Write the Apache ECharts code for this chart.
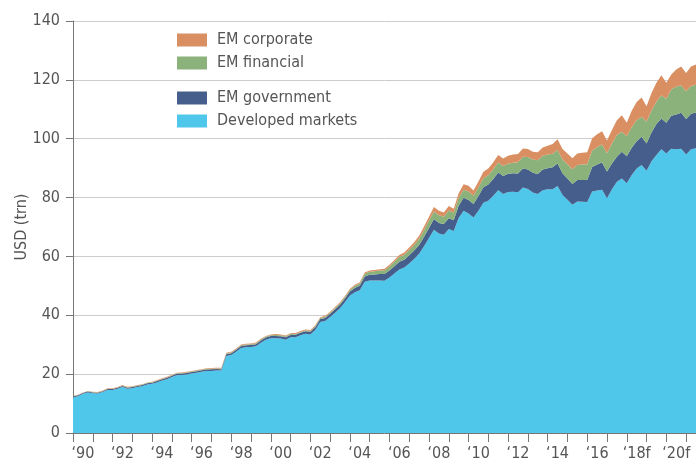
<!DOCTYPE html>
<html>
<head>
<meta charset="utf-8">
<script src="https://cdn.jsdelivr.net/npm/echarts@6/dist/echarts.min.js"></script>
<style>
  html, body { margin: 0; padding: 0; background: #fff; }
  #chart { width: 696px; height: 464px; }
</style>
</head>
<body>
<div id="chart"></div>
<script>
// quarterly data, first quarter 1990, last 2021 mid-year
var startYear = 1990;
var lastPoint = 2021.5;
// year labels (f = forecast)
var yearLabels = {
  1990: "\u201890", 1992: "\u201892", 1994: "\u201894", 1996: "\u201896", 1998: "\u201898",
  2000: "\u201800", 2002: "\u201802", 2004: "\u201804", 2006: "\u201806", 2008: "\u201808",
  2010: "\u201810", 2012: "\u201812", 2014: "\u201814", 2016: "\u201816", 2018: "\u201818f",
  2020: "\u201820f"
};
var seriesNames = ['Developed markets', 'EM government', 'EM financial', 'EM corporate'];
var colors = ['#4EC7EA', '#455E8B', '#8CB27C', '#D98F62'];

// Developed markets
var dm = [
  12.1, 12.5, 13.3, 13.8,  13.5, 13.4, 13.9, 14.6,  14.6, 15.0, 15.6, 15.0,  15.2, 15.6, 15.9, 16.5,
  16.7, 17.2, 17.8, 18.3,  19.0, 19.6, 19.7, 19.9,  20.2, 20.5, 20.8, 21.1,  21.1, 21.2, 21.2, 26.2,
  26.5, 27.6, 28.9, 29.1,  29.2, 29.5, 30.7, 31.7,  32.2, 32.2, 32.1, 31.7,  32.5, 32.5, 33.2, 33.7,
  33.5, 35.0, 37.7, 38.1,  39.4, 40.9, 42.4, 44.4,  46.7, 47.8, 48.5, 51.4,  51.8, 51.8, 51.8, 51.7,
  52.8, 54.2, 55.6, 56.2,  57.6, 59.1, 60.9, 63.5,  66.3, 69.1, 67.8, 67.4,  69.3, 68.6, 73.1, 75.5,
  74.6, 73.2, 75.5, 78.2,  78.9, 80.6, 82.5, 81.2,  81.9, 82.0, 81.8, 83.4,  82.9, 81.7, 81.2, 82.5,
  82.8, 82.8, 83.9, 80.9,  79.3, 77.6, 78.7, 78.6,  78.5, 82.1, 82.4, 82.7,  79.8, 82.8, 85.4, 86.5,
  84.9, 87.7, 89.9, 91.1,  89.1, 92.3, 94.5, 96.4,  95.0, 96.6, 96.4, 96.6,  94.6, 96.4, 96.8
];
// EM government
var gov = [
  0.3, 0.3, 0.3, 0.3,  0.3, 0.3, 0.3, 0.35,  0.35, 0.35, 0.4, 0.4,  0.4, 0.4, 0.4, 0.4,
  0.4, 0.45, 0.45, 0.45,  0.45, 0.5, 0.5, 0.5,  0.5, 0.5, 0.5, 0.5,  0.55, 0.55, 0.5, 0.6,
  0.6, 0.65, 0.65, 0.7,  0.7, 0.7, 0.75, 0.75,  0.75, 0.8, 0.8, 0.8,  0.8, 0.85, 0.85, 0.9,
  0.9, 0.95, 1.0, 1.0,  1.1, 1.15, 1.2, 1.3,  1.4, 1.5, 1.6, 1.8,  2.0, 2.1, 2.2, 2.3,
  2.4, 2.5, 2.6, 2.7,  2.8, 2.9, 3.0, 3.2,  3.4, 3.6, 3.6, 3.6,  3.7, 3.7, 4.1, 4.4,
  4.6, 4.6, 5.0, 5.3,  5.5, 5.7, 6.0, 6.1,  6.2, 6.3, 6.4, 6.5,  6.6, 6.7, 6.8, 7.0,
  7.2, 7.5, 7.7, 7.4,  7.2, 7.0, 7.3, 7.4,  7.5, 8.3, 8.8, 9.2,  9.1, 8.8, 8.5, 9.1,
  9.1, 9.2, 9.2, 9.6,  9.3, 9.8, 10.5, 10.5,  10.4, 11.2, 11.8, 12.2,  12.1, 12.1, 12.1
];
// EM financial
var fin = [
  0.1, 0.1, 0.1, 0.1,  0.1, 0.1, 0.1, 0.1,  0.1, 0.1, 0.15, 0.15,  0.15, 0.15, 0.15, 0.15,
  0.15, 0.15, 0.15, 0.15,  0.15, 0.2, 0.2, 0.2,  0.2, 0.2, 0.2, 0.2,  0.2, 0.2, 0.25, 0.25,
  0.25, 0.25, 0.25, 0.25,  0.25, 0.3, 0.3, 0.3,  0.3, 0.3, 0.3, 0.3,  0.3, 0.3, 0.3, 0.3,
  0.3, 0.35, 0.35, 0.4,  0.4, 0.45, 0.5, 0.55,  0.6, 0.7, 0.8, 0.9,  1.0, 1.1, 1.2, 1.3,
  1.4, 1.5, 1.6, 1.7,  1.8, 1.9, 2.1, 2.3,  2.5, 2.6, 2.6, 2.5,  2.6, 2.5, 2.7, 2.8,
  2.9, 2.8, 3.0, 3.1,  3.2, 3.3, 3.4, 3.4,  3.4, 3.5, 3.8, 4.0,  4.3, 4.5, 4.7, 4.7,
  4.6, 4.6, 4.6, 4.6,  4.8, 5.0, 5.1, 5.2,  5.3, 5.6, 5.9, 6.1,  6.2, 6.8, 7.4, 6.8,
  6.8, 7.0, 7.2, 6.8,  7.4, 7.5, 7.6, 7.9,  8.1, 9.0, 9.5, 9.4,  9.4, 9.4, 9.4
];
// EM corporate
var corp = [
  0.1, 0.1, 0.1, 0.1,  0.1, 0.1, 0.1, 0.15,  0.15, 0.15, 0.15, 0.15,  0.15, 0.15, 0.15, 0.15,
  0.15, 0.2, 0.2, 0.2,  0.2, 0.2, 0.2, 0.2,  0.2, 0.2, 0.2, 0.2,  0.25, 0.25, 0.25, 0.25,
  0.25, 0.25, 0.25, 0.25,  0.25, 0.25, 0.25, 0.25,  0.25, 0.3, 0.3, 0.3,  0.3, 0.3, 0.3, 0.3,
  0.3, 0.3, 0.3, 0.3,  0.3, 0.3, 0.3, 0.3,  0.3, 0.35, 0.35, 0.4,  0.4, 0.4, 0.45, 0.5,
  0.55, 0.6, 0.7, 0.75,  0.8, 0.9, 1.0, 1.2,  1.3, 1.5, 1.5, 1.4,  1.5, 1.4, 1.6, 1.8,
  1.9, 1.8, 2.0, 2.2,  2.3, 2.4, 2.6, 2.6,  2.7, 2.8, 2.8, 2.8,  2.7, 2.7, 2.7, 2.8,
  3.0, 3.3, 3.6, 3.6,  3.7, 3.8, 3.9, 4.0,  4.1, 4.2, 4.4, 4.5,  4.3, 4.6, 5.0, 5.6,
  4.6, 5.6, 6.2, 6.5,  5.2, 5.9, 6.4, 6.8,  5.5, 5.0, 5.8, 6.3,  6.2, 6.6, 6.9
];

var font = "'Liberation Sans Narrow', 'DejaVu Sans Condensed', Roboto, sans-serif";
var textColor = '#555';
var axisColor = '#777';

// 季度类目 1990Q1 ...
var quarters = [];
for (var i = 0; i < dm.length; i++) {
  quarters.push((startYear + Math.floor(i / 4)) + 'Q' + (i % 4 + 1));
}
// 每年一个刻度，标签放在年份中间
var tickYears = [];
var labelPos = [];
for (var y = startYear; y < lastPoint; y++) {
  tickYears.push(y);
  if (yearLabels[y]) labelPos.push(y + 0.5);
}

var allData = [dm, gov, fin, corp];
var series = [];
for (var s = 0; s < allData.length; s++) {
  series.push({
    name: seriesNames[s],
    type: 'line',
    stack: 'total',
    xAxisIndex: 0,
    data: allData[s],
    symbol: 'none',
    smooth: false,
    lineStyle: { width: 0 },
    areaStyle: { color: colors[s], opacity: 1 },
    itemStyle: { color: colors[s] },
    emphasis: { disabled: true }
  });
}

var legendCommon = {
  orient: 'vertical',
  left: 172,
  icon: 'rect',
  itemWidth: 30,
  itemHeight: 13,
  itemGap: 7,
  selectedMode: false,
  textStyle: { fontFamily: font, fontSize: 16, color: textColor, padding: [0, 0, 0, 5] }
};

var chart = echarts.init(document.getElementById('chart'));
var option = {
  animation: false,
  backgroundColor: '#fff',
  color: colors,
  grid: { left: 73, right: 0, top: 21, bottom: 31 },
  legend: [
    Object.assign({}, legendCommon, { top: 27, data: ['EM corporate', 'EM financial'] }),
    Object.assign({}, legendCommon, { top: 85, data: ['EM government', 'Developed markets'] })
  ],
  xAxis: [
    {
      // 数据用的季度轴，隐藏
      type: 'category',
      data: quarters,
      boundaryGap: false,
      show: false
    },
    {
      // 显示用的年份轴
      type: 'value',
      position: 'bottom',
      min: startYear,
      max: lastPoint,
      axisLine: { show: true, onZero: false, lineStyle: { color: axisColor, width: 1 } },
      axisTick: { show: true, length: 9, customValues: tickYears, lineStyle: { color: axisColor } },
      splitLine: { show: false },
      axisLabel: {
        fontFamily: font,
        fontSize: 16,
        color: textColor,
        margin: 13,
        customValues: labelPos,
        formatter: function (v) {
          return yearLabels[Math.floor(v)] || '';
        }
      }
    }
  ],
  yAxis: {
    type: 'value',
    min: 0,
    max: 140,
    interval: 20,
    name: 'USD (trn)',
    nameLocation: 'middle',
    nameGap: 43,
    nameMoveOverlap: false,
    nameTextStyle: { fontFamily: font, fontSize: 16, color: textColor },
    axisLine: { show: true, lineStyle: { color: axisColor, width: 1 } },
    axisTick: { show: true, length: 7, lineStyle: { color: axisColor } },
    splitLine: { show: true, lineStyle: { color: '#cccccc', width: 1 } },
    axisLabel: { fontFamily: font, fontSize: 16, color: textColor, margin: 13 }
  },
  series: series
};
chart.setOption(option);
</script>
</body>
</html>
